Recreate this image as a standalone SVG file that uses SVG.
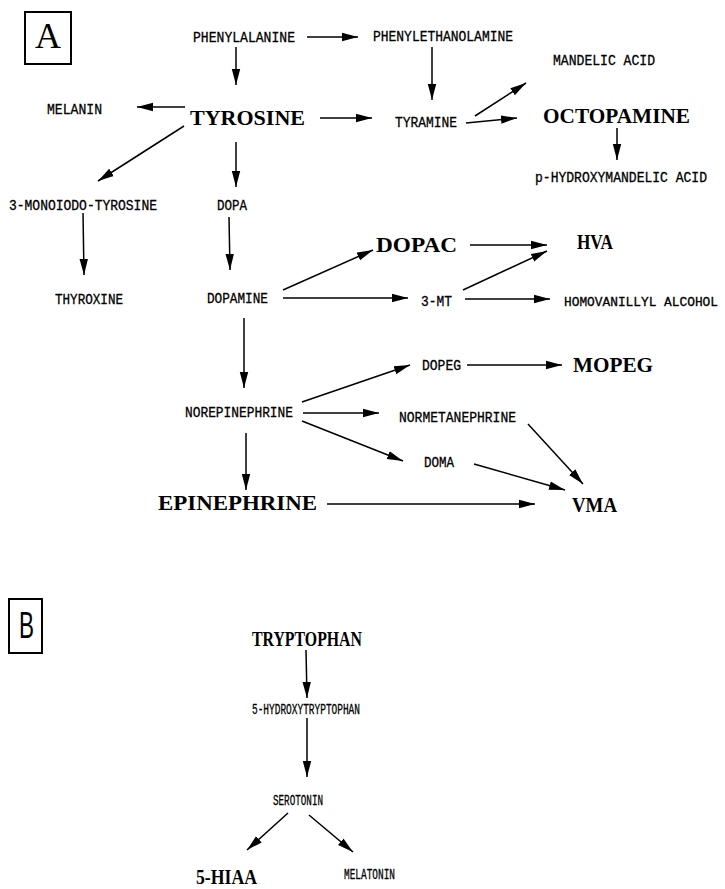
<svg xmlns="http://www.w3.org/2000/svg" width="725" height="889" viewBox="0 0 725 889">
<style>
.s{font-family:"Liberation Mono","DejaVu Sans Mono",monospace;font-size:14px;fill:#000;stroke:#000;stroke-width:0.3}
.b{font-family:"Liberation Serif","DejaVu Serif",serif;font-size:22px;font-weight:bold;fill:#000}
.c line{stroke:#000;stroke-width:1.5;marker-end:url(#ah)}
.box{fill:none;stroke:#000;stroke-width:2}
</style>
<defs>
<marker id="ah" markerWidth="17" markerHeight="10" refX="16" refY="5" orient="auto" markerUnits="userSpaceOnUse">
<path d="M0,0.8 L16,5 L0,9.2 z" fill="#000"/>
</marker>
</defs>
<rect width="725" height="889" fill="#fff"/>
<g id="panelA">
<rect class="box" x="25" y="12" width="46" height="52"/>
<text x="48" y="48" text-anchor="middle" font-family="Liberation Serif, serif" font-size="36">A</text>
</g>
<g id="panelB">
<rect class="box" x="9" y="599" width="33" height="54"/>
<text x="19" y="638" font-family="Liberation Sans, sans-serif" font-size="36" textLength="15" lengthAdjust="spacingAndGlyphs">B</text>
</g>
<g id="n-phe"><text class="s" x="193" y="42" textLength="102" lengthAdjust="spacingAndGlyphs">PHENYLALANINE</text></g>
<g id="n-pea"><text class="s" x="373" y="41" textLength="140" lengthAdjust="spacingAndGlyphs">PHENYLETHANOLAMINE</text></g>
<g id="n-melanin"><text class="s" x="47" y="114" textLength="55" lengthAdjust="spacingAndGlyphs">MELANIN</text></g>
<g id="n-tyr"><text class="b" x="190" y="125" textLength="115" lengthAdjust="spacingAndGlyphs">TYROSINE</text></g>
<g id="n-tyramine"><text class="s" x="395" y="127" textLength="62" lengthAdjust="spacingAndGlyphs">TYRAMINE</text></g>
<g id="n-mandelic"><text class="s" x="553" y="65" textLength="102" lengthAdjust="spacingAndGlyphs">MANDELIC ACID</text></g>
<g id="n-oct"><text class="b" x="543" y="123" textLength="147" lengthAdjust="spacingAndGlyphs">OCTOPAMINE</text></g>
<g id="n-phma"><text class="s" x="535" y="182" textLength="172" lengthAdjust="spacingAndGlyphs">p-HYDROXYMANDELIC ACID</text></g>
<g id="n-mit"><text class="s" x="9" y="210" textLength="148" lengthAdjust="spacingAndGlyphs">3-MONOIODO-TYROSINE</text></g>
<g id="n-dopa"><text class="s" x="217" y="210" textLength="30" lengthAdjust="spacingAndGlyphs">DOPA</text></g>
<g id="n-thyroxine"><text class="s" x="55" y="304" textLength="68" lengthAdjust="spacingAndGlyphs">THYROXINE</text></g>
<g id="n-dopamine"><text class="s" x="207" y="303" textLength="61" lengthAdjust="spacingAndGlyphs">DOPAMINE</text></g>
<g id="n-dopac"><text class="b" x="376" y="252" textLength="81" lengthAdjust="spacingAndGlyphs">DOPAC</text></g>
<g id="n-hva"><text class="b" x="577" y="249" textLength="36" lengthAdjust="spacingAndGlyphs">HVA</text></g>
<g id="n-3mt"><text class="s" x="421" y="306" textLength="31" lengthAdjust="spacingAndGlyphs">3-MT</text></g>
<g id="n-hvalc"><text class="s" x="564" y="306" style="font-size:12.5px" textLength="154" lengthAdjust="spacingAndGlyphs">HOMOVANILLYL ALCOHOL</text></g>
<g id="n-dopeg"><text class="s" x="422" y="370" textLength="39" lengthAdjust="spacingAndGlyphs">DOPEG</text></g>
<g id="n-mopeg"><text class="b" x="573" y="372" textLength="80" lengthAdjust="spacingAndGlyphs">MOPEG</text></g>
<g id="n-ne"><text class="s" x="185" y="417" textLength="108" lengthAdjust="spacingAndGlyphs">NOREPINEPHRINE</text></g>
<g id="n-nmn"><text class="s" x="399" y="422" textLength="117" lengthAdjust="spacingAndGlyphs">NORMETANEPHRINE</text></g>
<g id="n-doma"><text class="s" x="424" y="467" textLength="30" lengthAdjust="spacingAndGlyphs">DOMA</text></g>
<g id="n-epi"><text class="b" x="158" y="510" textLength="159" lengthAdjust="spacingAndGlyphs">EPINEPHRINE</text></g>
<g id="n-vma"><text class="b" x="572" y="512" textLength="45" lengthAdjust="spacingAndGlyphs">VMA</text></g>
<g id="n-trp"><text class="b" x="252" y="646" textLength="110" lengthAdjust="spacingAndGlyphs">TRYPTOPHAN</text></g>
<g id="n-5htp"><text class="s" x="252" y="714" textLength="108" lengthAdjust="spacingAndGlyphs">5-HYDROXYTRYPTOPHAN</text></g>
<g id="n-5ht"><text class="s" x="273" y="805" textLength="50" lengthAdjust="spacingAndGlyphs">SEROTONIN</text></g>
<g id="n-5hiaa"><text class="b" x="196" y="884" style="font-size:21px" textLength="61" lengthAdjust="spacingAndGlyphs">5-HIAA</text></g>
<g id="n-melatonin"><text class="s" x="344" y="879" textLength="51" lengthAdjust="spacingAndGlyphs">MELATONIN</text></g>
<g id="connectors" class="c">
<line x1="307" y1="37" x2="358" y2="37"/>
<line x1="236" y1="47" x2="236" y2="85"/>
<line x1="185" y1="107" x2="137" y2="107"/>
<line x1="320" y1="118" x2="372" y2="118"/>
<line x1="184" y1="126" x2="98" y2="181"/>
<line x1="236" y1="142" x2="236" y2="187"/>
<line x1="432" y1="47" x2="432" y2="100"/>
<line x1="475" y1="116" x2="526" y2="83"/>
<line x1="466" y1="123" x2="517" y2="118"/>
<line x1="617" y1="128" x2="617" y2="160"/>
<line x1="83" y1="213" x2="84" y2="275"/>
<line x1="229" y1="217" x2="230" y2="270"/>
<line x1="283" y1="290" x2="373" y2="250"/>
<line x1="283" y1="298" x2="408" y2="298"/>
<line x1="470" y1="245" x2="547" y2="245"/>
<line x1="463" y1="290" x2="547" y2="251"/>
<line x1="465" y1="299" x2="550" y2="299"/>
<line x1="244" y1="318" x2="244" y2="388"/>
<line x1="302" y1="402" x2="410" y2="365"/>
<line x1="467" y1="365" x2="562" y2="365"/>
<line x1="303" y1="413" x2="379" y2="413"/>
<line x1="302" y1="421" x2="403" y2="461"/>
<line x1="528" y1="424" x2="583" y2="484"/>
<line x1="474" y1="464" x2="565" y2="490"/>
<line x1="246" y1="433" x2="246" y2="490"/>
<line x1="327" y1="504" x2="535" y2="504"/>
<line x1="306" y1="650" x2="307" y2="698"/>
<line x1="307" y1="718" x2="307" y2="777"/>
<line x1="288" y1="813" x2="247" y2="850"/>
<line x1="309" y1="815" x2="353" y2="852"/>
</g>
</svg>
